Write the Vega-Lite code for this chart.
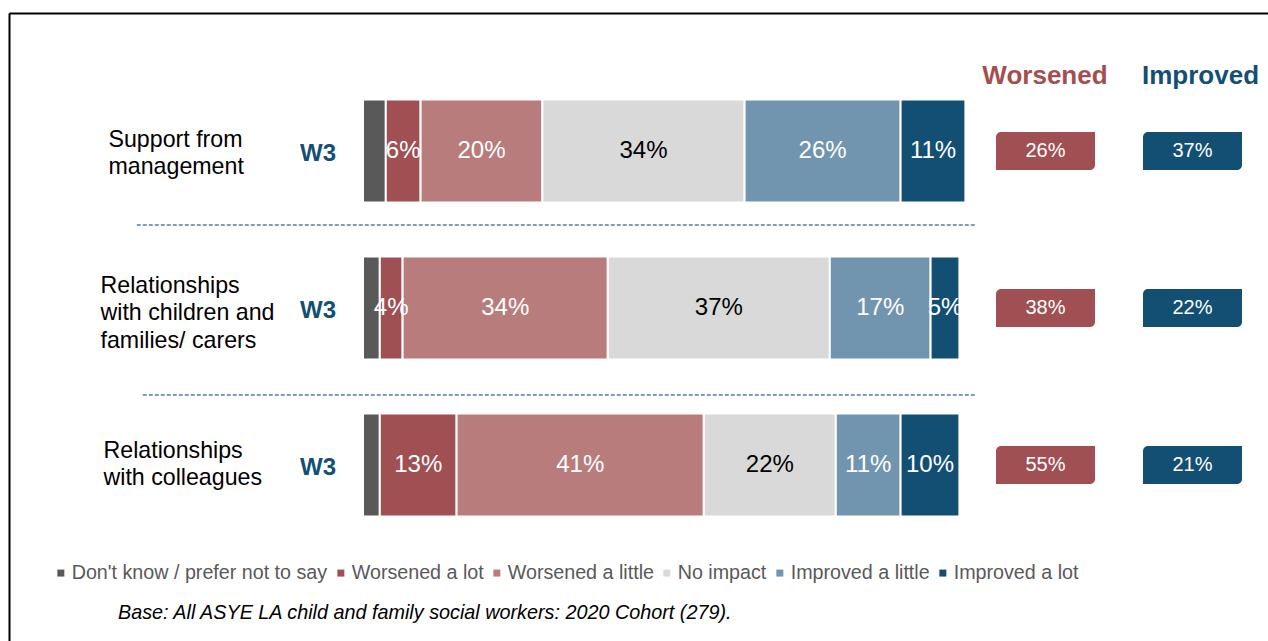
{
  "$schema": "https://vega.github.io/schema/vega-lite/v6.json",
  "usermeta": {"embedOptions": {"actions": false}},
  "width": 1259,
  "height": 628,
  "autosize": {"type": "none"},
  "padding": {"left": 9, "top": 13, "right": 0, "bottom": 0},
  "background": "white",
  "config": {"view": {"stroke": null}, "font": "Liberation Sans"},
  "title": {
    "text": "Base: All ASYE LA child and family social workers: 2020 Cohort (279).",
    "orient": "top",
    "anchor": "start",
    "frame": "group",
    "dx": 109,
    "dy": 626,
    "offset": 0,
    "fontSize": 19.8,
    "fontStyle": "italic",
    "fontWeight": "normal",
    "color": "black",
    "baseline": "alphabetic",
    "font": "Liberation Sans"
  },
  "datasets": {
    "responses": [
      {"category": "Support from management", "response": "Don't know / prefer not to say", "value": 0.038},
      {"category": "Support from management", "response": "Worsened a lot", "value": 0.058},
      {"category": "Support from management", "response": "Worsened a little", "value": 0.203},
      {"category": "Support from management", "response": "No impact", "value": 0.337},
      {"category": "Support from management", "response": "Improved a little", "value": 0.26},
      {"category": "Support from management", "response": "Improved a lot", "value": 0.108},
      {"category": "Relationships with children and families/ carers", "response": "Don't know / prefer not to say", "value": 0.028},
      {"category": "Relationships with children and families/ carers", "response": "Worsened a lot", "value": 0.038},
      {"category": "Relationships with children and families/ carers", "response": "Worsened a little", "value": 0.342},
      {"category": "Relationships with children and families/ carers", "response": "No impact", "value": 0.37},
      {"category": "Relationships with children and families/ carers", "response": "Improved a little", "value": 0.168},
      {"category": "Relationships with children and families/ carers", "response": "Improved a lot", "value": 0.048},
      {"category": "Relationships with colleagues", "response": "Don't know / prefer not to say", "value": 0.028},
      {"category": "Relationships with colleagues", "response": "Worsened a lot", "value": 0.128},
      {"category": "Relationships with colleagues", "response": "Worsened a little", "value": 0.412},
      {"category": "Relationships with colleagues", "response": "No impact", "value": 0.22},
      {"category": "Relationships with colleagues", "response": "Improved a little", "value": 0.108},
      {"category": "Relationships with colleagues", "response": "Improved a lot", "value": 0.098}
    ],
    "summary": [
      {"category": "Support from management", "measure": "Worsened", "value": 0.26},
      {"category": "Support from management", "measure": "Improved", "value": 0.37},
      {"category": "Relationships with children and families/ carers", "measure": "Worsened", "value": 0.38},
      {"category": "Relationships with children and families/ carers", "measure": "Improved", "value": 0.22},
      {"category": "Relationships with colleagues", "measure": "Worsened", "value": 0.55},
      {"category": "Relationships with colleagues", "measure": "Improved", "value": 0.21}
    ],
    "rows": [
      {"category": "Support from management", "wave": "W3"},
      {"category": "Relationships with children and families/ carers", "wave": "W3"},
      {"category": "Relationships with colleagues", "wave": "W3"}
    ]
  },
  "layer": [
    {
      "data": {"name": "responses"},
      "transform": [
        {"calculate": "indexof([\"Don't know / prefer not to say\", 'Worsened a lot', 'Worsened a little', 'No impact', 'Improved a little', 'Improved a lot'], datum.response)", "as": "ord"},
        {"stack": "value", "groupby": ["category"], "sort": [{"field": "ord", "order": "ascending"}], "as": ["x0", "x1"]}
      ],
      "mark": {"type": "bar", "stroke": "white", "strokeWidth": 2},
      "encoding": {
        "x": {
          "field": "x0",
          "type": "quantitative",
          "scale": {"domain": [-0.59, 1.508333], "nice": false, "zero": false},
          "axis": {
            "orient": "top",
            "title": null,
            "values": [1.1358, 1.395],
            "ticks": false,
            "tickSize": 0,
            "grid": false,
            "domain": true,
            "domainColor": "black",
            "domainWidth": 2,
            "labelExpr": "datum.value < 1.2 ? 'Worsened' : 'Improved'",
            "labelColor": {"condition": {"test": "datum.value < 1.2", "value": "#a34f52"}, "value": "#134f73"},
            "labelFontSize": 26,
            "labelFontWeight": "bold",
            "labelFont": "Liberation Sans",
            "labelBaseline": "middle",
            "labelAlign": "center",
            "labelPadding": -62,
            "labelFlush": false,
            "labelOverlap": false
          }
        },
        "x2": {"field": "x1"},
        "y": {
          "field": "category",
          "type": "nominal",
          "scale": {
            "domain": ["Support from management", "Relationships with children and families/ carers", "Relationships with colleagues"],
            "paddingInner": 0.34395,
            "paddingOuter": 0.67197,
            "align": 0.40995
          },
          "axis": {
            "orient": "left",
            "title": null,
            "ticks": false,
            "tickSize": 0,
            "grid": false,
            "domain": true,
            "domainColor": "black",
            "domainWidth": 2,
            "labelAlign": "left",
            "labelBaseline": "middle",
            "labelPadding": {
              "condition": [
                {"test": "datum.value == 'Support from management'", "value": -99},
                {"test": "datum.value == 'Relationships with colleagues'", "value": -94}
              ],
              "value": -91
            },
            "labelOffset": {
              "condition": [
                {"test": "datum.value == 'Support from management'", "value": -11},
                {"test": "datum.value == 'Relationships with colleagues'", "value": -14}
              ],
              "value": -22
            },
            "labelFontSize": 23.2,
            "labelLineHeight": 27.5,
            "labelColor": "black",
            "labelFont": "Liberation Sans",
            "labelLimit": 0,
            "labelExpr": "datum.value == 'Support from management' ? ['Support from', 'management'] : datum.value == 'Relationships with colleagues' ? ['Relationships', 'with colleagues'] : ['Relationships', 'with children and', 'families/ carers']"
          }
        },
        "color": {
          "field": "response",
          "type": "nominal",
          "scale": {
            "domain": ["Don't know / prefer not to say", "Worsened a lot", "Worsened a little", "No impact", "Improved a little", "Improved a lot"],
            "range": ["#595959", "#a04f52", "#b97c7d", "#d9d9d9", "#7195ae", "#134f73"]
          },
          "legend": {
            "orient": "none",
            "legendX": 42,
            "legendY": 550,
            "direction": "horizontal",
            "columns": 6,
            "title": null,
            "symbolType": "square",
            "symbolSize": 49,
            "symbolStrokeWidth": 0,
            "labelFontSize": 19.7,
            "labelColor": "#595959",
            "labelFont": "Liberation Sans",
            "labelOffset": 1,
            "columnPadding": 3,
            "padding": 0,
            "labelLimit": 0
          }
        }
      }
    },
    {
      "data": {"name": "responses"},
      "transform": [
        {"calculate": "indexof([\"Don't know / prefer not to say\", 'Worsened a lot', 'Worsened a little', 'No impact', 'Improved a little', 'Improved a lot'], datum.response)", "as": "ord"},
        {"stack": "value", "groupby": ["category"], "sort": [{"field": "ord", "order": "ascending"}], "as": ["x0", "x1"]},
        {"calculate": "(datum.x0 + datum.x1) / 2", "as": "xm"},
        {"filter": "datum.ord > 0"}
      ],
      "mark": {"type": "text", "fontSize": 24, "align": "center", "baseline": "middle", "font": "Liberation Sans"},
      "encoding": {
        "x": {"field": "xm", "type": "quantitative"},
        "y": {"field": "category", "type": "nominal"},
        "text": {"field": "value", "type": "quantitative", "format": ".0%"},
        "color": {"condition": {"test": "datum.response === 'No impact'", "value": "black"}, "value": "white"}
      }
    },
    {
      "data": {"name": "rows"},
      "mark": {"type": "text", "fontSize": 24, "fontWeight": "bold", "color": "#134f73", "align": "center", "baseline": "middle", "dy": 3, "font": "Liberation Sans"},
      "encoding": {
        "x": {"datum": -0.075},
        "y": {"field": "category", "type": "nominal"},
        "text": {"field": "wave", "type": "nominal"}
      }
    },
    {
      "data": {"name": "summary"},
      "transform": [{"filter": "datum.measure === 'Worsened'"}],
      "mark": {"type": "bar", "color": "#a04f52", "height": {"band": 0.369}, "cornerRadiusTopLeft": 5, "cornerRadiusBottomRight": 5},
      "encoding": {
        "x": {"datum": 1.055},
        "x2": {"datum": 1.22},
        "y": {"field": "category", "type": "nominal"}
      }
    },
    {
      "data": {"name": "summary"},
      "transform": [{"filter": "datum.measure === 'Improved'"}],
      "mark": {"type": "bar", "color": "#134f73", "height": {"band": 0.369}, "cornerRadiusTopLeft": 5, "cornerRadiusBottomRight": 5},
      "encoding": {
        "x": {"datum": 1.3},
        "x2": {"datum": 1.465},
        "y": {"field": "category", "type": "nominal"}
      }
    },
    {
      "data": {"name": "summary"},
      "transform": [{"filter": "datum.measure === 'Worsened'"}],
      "mark": {"type": "text", "fontSize": 20, "color": "white", "align": "center", "baseline": "middle", "font": "Liberation Sans"},
      "encoding": {
        "x": {"datum": 1.1375},
        "y": {"field": "category", "type": "nominal"},
        "text": {"field": "value", "type": "quantitative", "format": ".0%"}
      }
    },
    {
      "data": {"name": "summary"},
      "transform": [{"filter": "datum.measure === 'Improved'"}],
      "mark": {"type": "text", "fontSize": 20, "color": "white", "align": "center", "baseline": "middle", "font": "Liberation Sans"},
      "encoding": {
        "x": {"datum": 1.3825},
        "y": {"field": "category", "type": "nominal"},
        "text": {"field": "value", "type": "quantitative", "format": ".0%"}
      }
    },
    {
      "data": {"values": [{}]},
      "mark": {"type": "rule", "color": "#5b7f9b", "strokeWidth": 1.5, "strokeDash": [4, 2]},
      "encoding": {
        "x": {"datum": -0.377},
        "x2": {"datum": 1.02},
        "y": {"datum": "Support from management", "type": "nominal", "bandPosition": 1.218}
      }
    },
    {
      "data": {"values": [{}]},
      "mark": {"type": "rule", "color": "#5b7f9b", "strokeWidth": 1.5, "strokeDash": [4, 2]},
      "encoding": {
        "x": {"datum": -0.367},
        "x2": {"datum": 1.02},
        "y": {"datum": "Relationships with children and families/ carers", "type": "nominal", "bandPosition": 1.345}
      }
    }
  ]
}
